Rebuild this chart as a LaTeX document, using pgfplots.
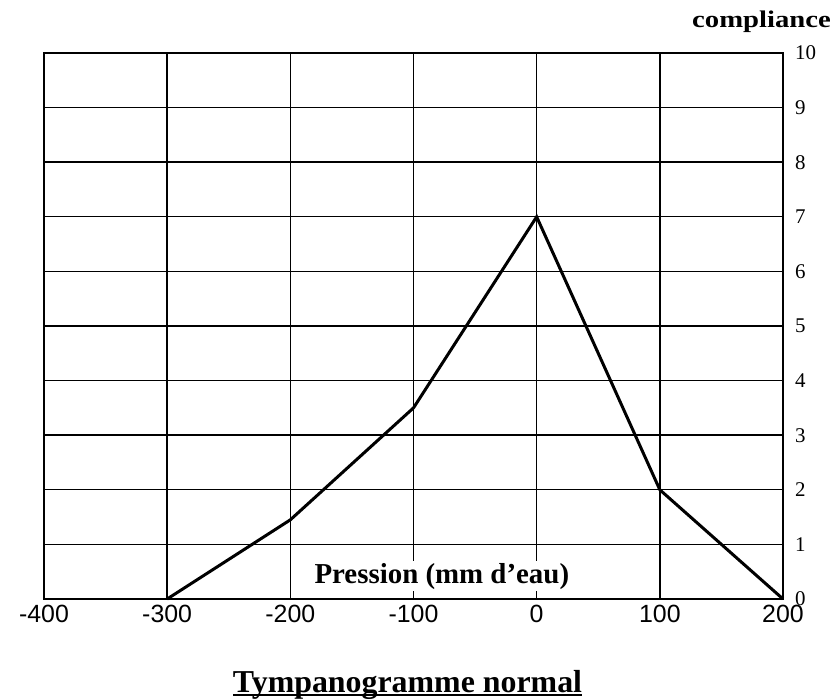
\documentclass[border=0pt]{standalone}
\usepackage{fontspec}
\setmainfont{Liberation Serif}
\newfontfamily\sansf{Liberation Sans}
\newfontfamily\wideserif[FakeStretch=1.2]{Liberation Serif}
\usepackage{pgfplots}
\pgfplotsset{compat=1.18}
\begin{document}
\begin{tikzpicture}
\begin{axis}[
  at={(44bp,101bp)}, anchor=south west,
  scale only axis, width=739bp, height=546bp,
  xmin=-400, xmax=200, ymin=0, ymax=10,
  xtick={-400,-300,-200,-100,0,100,200},
  ytick={0,1,2,3,4,5,6,7,8,9,10},
  grid=major,
  grid style={black, line width=1.4bp},
  axis line style={black, line width=1.4bp},
  major tick length=0pt,
  yticklabel pos=right,
  /pgf/number format/assume math mode=true,
  xticklabel style={font=\sansf\fontsize{25}{25}\selectfont, inner sep=0pt, anchor=north, yshift=-6bp},
  yticklabel style={font=\fontsize{21}{21}\selectfont, inner sep=0pt, anchor=west, xshift=12bp},
  clip=false,
]
\addplot[black, line width=3bp, mark=none] coordinates {
  (-300,0) (-200,1.45) (-100,3.5) (0,7) (100,2) (200,0)
};
\node[fill=white, inner sep=2bp, anchor=base, font=\bfseries\fontsize{29}{29}\selectfont] at (axis cs:-77,0.29) {Pression (mm d’eau)};
\end{axis}
\node[anchor=base west, inner sep=0pt, font=\wideserif\bfseries\fontsize{24}{24}\selectfont] at (692bp,672bp) {compliance};
\node[anchor=base, inner sep=0pt, font=\bfseries\fontsize{32}{32}\selectfont] at (407.5bp,8bp) {Tympanogramme normal};
\draw[black, line width=1.5bp] (233bp,5bp) -- (582bp,5bp);
\pgfresetboundingbox
\path[use as bounding box] (0bp,0bp) rectangle (837bp,700bp);
\end{tikzpicture}
\end{document}
